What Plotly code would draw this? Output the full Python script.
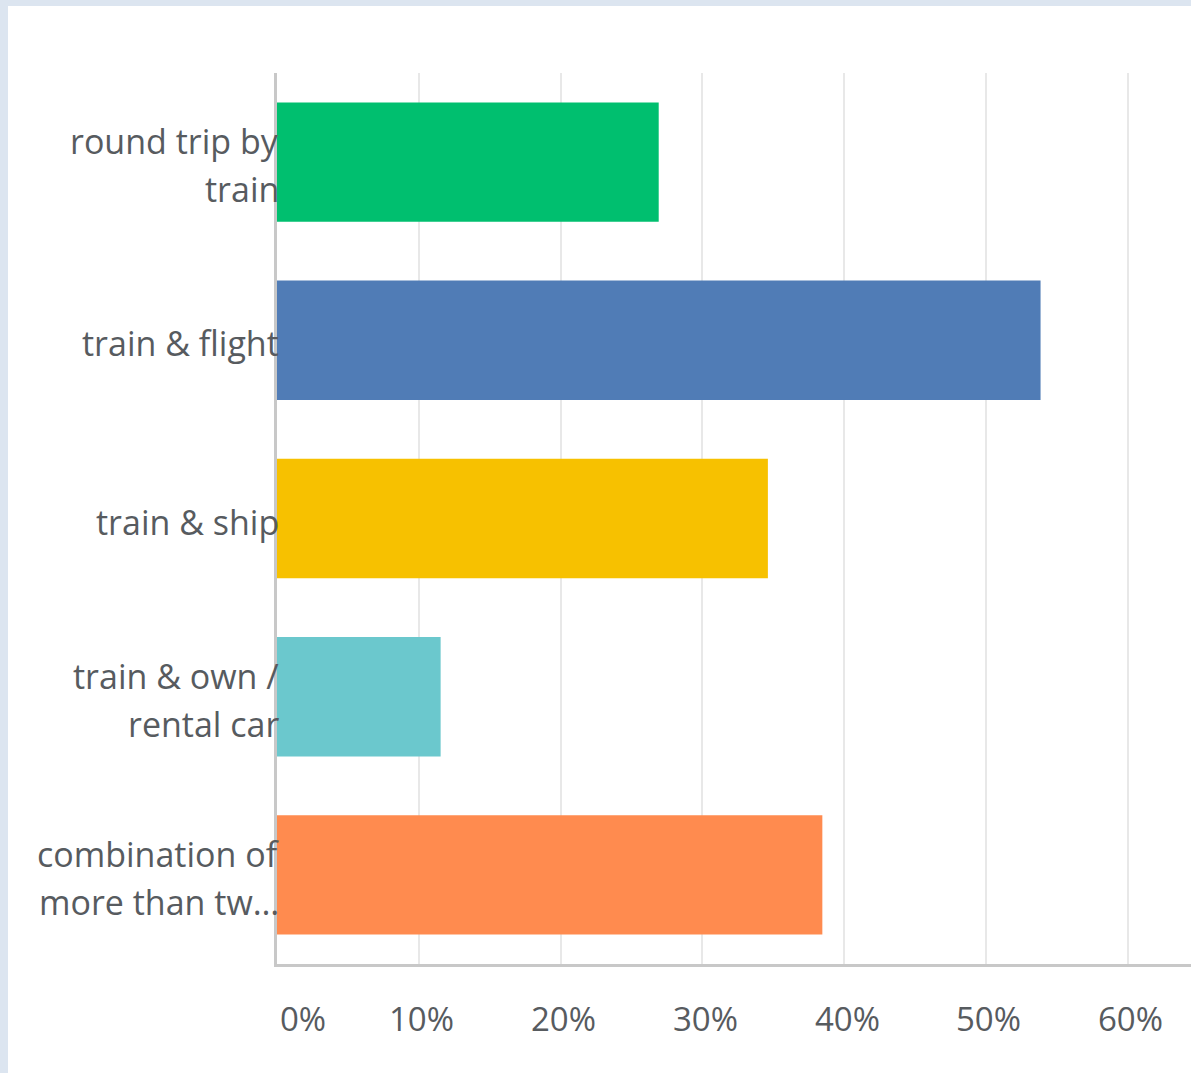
import plotly.graph_objects as go

# ---------------- data ----------------
CATEGORIES = [
    "round trip by train",
    "train & flight",
    "train & ship",
    "train & own / rental car",
    "combination of more than two",
]
LABEL_LINES = [
    ["round trip by", "train"],
    ["train & flight"],
    ["train & ship"],
    ["train & own /", "rental car"],
    ["combination of", "more than tw…"],
]
VALUES = [0.2692, 0.5385, 0.3462, 0.1154, 0.3846]
COLORS = ["#00BF6F", "#507CB6", "#F7C100", "#6BC8CD", "#FF8B4F"]
TICK_VALUES = [0, 0.1, 0.2, 0.3, 0.4, 0.5, 0.6]
TICK_LABELS = ["0%", "10%", "20%", "30%", "40%", "50%", "60%"]

# ---------------- style ----------------
W, H = 1191, 1073
ML, MR, MT, MB = 277, 0, 73, 109
FONT = "Open Sans"
TXT = "#575b5f"
LABEL_SIZE = 34
TICK_SIZE = 33
FRAME = "#dce5f0"
PANEL_LEFT, PANEL_TOP = 8, 6

pw = W - ML - MR
ph = H - MT - MB

fig = go.Figure()
fig.add_trace(go.Bar(
    y=CATEGORIES,
    x=VALUES,
    orientation="h",
    marker=dict(color=COLORS, line=dict(width=0)),
    hoverinfo="skip",
))

annotations = []
# category labels (two-line labels with wide line spacing)
for cat, lines in zip(CATEGORIES, LABEL_LINES):
    n = len(lines)
    for i, line in enumerate(lines):
        offset = (i - (n - 1) / 2) * 48
        annotations.append(dict(
            x=0, xref="paper", y=cat, yref="y",
            text=line, showarrow=False,
            xanchor="right", yanchor="middle",
            xshift=4, yshift=-offset - 3,
            font=dict(family=FONT, size=LABEL_SIZE, color=TXT),
        ))
# x tick labels
for v, t in zip(TICK_VALUES, TICK_LABELS):
    annotations.append(dict(
        x=v, xref="x", y=0, yref="paper",
        text=t, showarrow=False,
        xanchor="left" if v == 0 else "center", yanchor="middle",
        xshift=1 if v == 0 else 3, yshift=-54,
        font=dict(family=FONT, size=TICK_SIZE, color=TXT),
    ))

fig.update_layout(
    width=W, height=H,
    margin=dict(l=ML, r=MR, t=MT, b=MB, pad=0),
    paper_bgcolor=FRAME,
    plot_bgcolor="white",
    showlegend=False,
    bargap=0.33,
    font=dict(family=FONT, color=TXT),
    annotations=annotations,
    shapes=[dict(
        type="rect", xref="paper", yref="paper", layer="below",
        x0=(PANEL_LEFT - ML) / pw, x1=1.05,
        y0=-0.3, y1=(H - MB - PANEL_TOP) / ph,
        fillcolor="white", line=dict(width=0),
    )],
    xaxis=dict(
        range=[0, 0.6446],
        tickvals=TICK_VALUES,
        showticklabels=False,
        showgrid=True, gridcolor="#e8e8e8", gridwidth=2,
        zeroline=False,
        showline=True, linecolor="#c8c8c8", linewidth=3,
        ticks="",
        fixedrange=True,
    ),
    yaxis=dict(
        categoryorder="array", categoryarray=CATEGORIES,
        autorange="reversed",
        showticklabels=False,
        showgrid=False, zeroline=False,
        showline=True, linecolor="#c8c8c8", linewidth=3,
        ticks="",
        fixedrange=True,
    ),
)

fig.write_html(
    "out.html",
    config={"displayModeBar": False},
    post_script=(
        f"document.body.style.margin='0';"
        f"document.body.style.background='{FRAME}';"
        f"document.body.style.overflow='hidden';"
    ),
)
